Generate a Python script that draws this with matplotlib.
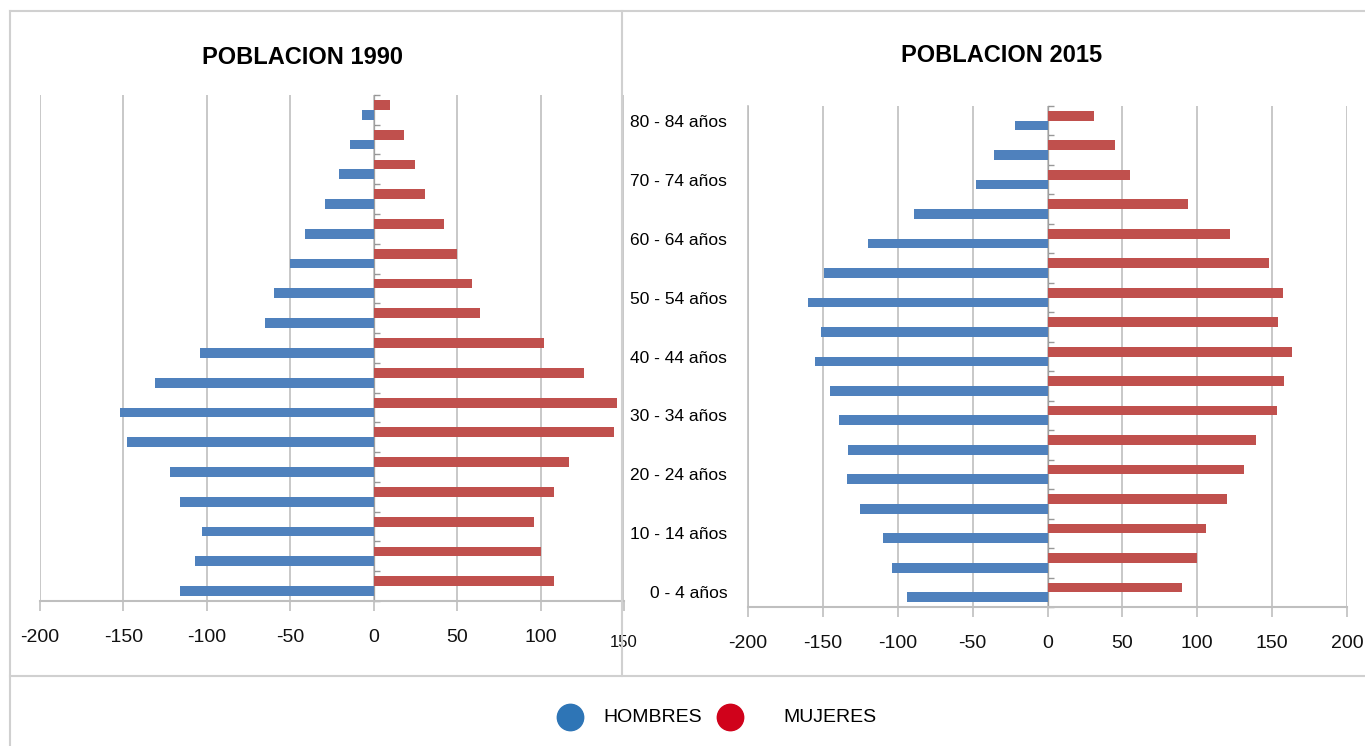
import numpy as np
import matplotlib.pyplot as plt
from matplotlib.lines import Line2D

plt.rcParams['font.family'] = ['Liberation Sans', 'DejaVu Sans']
plt.rcParams['axes.unicode_minus'] = False

# grupos de edad, de 0-4 a 80-84
edades = ['0 - 4 años', '5 - 9 años', '10 - 14 años', '15 - 19 años', '20 - 24 años',
          '25 - 29 años', '30 - 34 años', '35 - 39 años', '40 - 44 años', '45 - 49 años',
          '50 - 54 años', '55 - 59 años', '60 - 64 años', '65 - 69 años', '70 - 74 años',
          '75 - 79 años', '80 - 84 años']

hombres_1990 = [-116, -107, -103, -116, -122, -148, -152, -131, -104, -65,
                -60, -50, -41, -29, -21, -14, -7]
mujeres_1990 = [108, 100, 96, 108, 117, 144, 146, 126, 102, 64,
                59, 50, 42, 31, 25, 18, 10]

hombres_2015 = [-94, -104, -110, -125, -134, -133, -139, -145, -155, -151,
                -160, -149, -120, -89, -48, -36, -22]
mujeres_2015 = [90, 100, 106, 120, 131, 139, 153, 158, 163, 154,
                157, 148, 122, 94, 55, 45, 31]

azul = '#4f81bd'
rojo = '#c0504d'
gris = '#bfbfbf'
h = 0.33

fig = plt.figure(figsize=(13.65, 7.46), dpi=100)
y = np.arange(len(edades))


def piramide(ax, hom, muj, xmin, xmax, zero_frac):
    ax.barh(y - h / 2, hom, height=h, color=azul, zorder=3)
    ax.barh(y + h / 2, muj, height=h, color=rojo, zorder=3)
    ax.set_xlim(xmin, xmax)
    ax.set_ylim(-0.5, len(edades) - 0.5)
    ax.set_xticks(np.arange(xmin, xmax + 1, 50))
    ax.grid(axis='x', color=gris, linewidth=1.2, zorder=0)
    for s in ['top', 'right']:
        ax.spines[s].set_visible(False)
    ax.spines['bottom'].set_color(gris)
    ax.spines['bottom'].set_linewidth(1.5)
    ax.spines['left'].set_color(gris)
    ax.spines['left'].set_linewidth(1.2)
    ax.tick_params(axis='x', colors=gris, length=7, width=1.2, labelsize=14,
                   labelcolor='#111111', pad=13)
    # eje central con marcas entre grupos
    sec = ax.secondary_yaxis(zero_frac)
    sec.set_yticks(np.arange(-0.5, len(edades), 1.0))
    sec.set_yticklabels([])
    sec.spines['left'].set_color('#e6e6e6')
    sec.tick_params(axis='y', colors='#999999', length=4, width=1)


# POBLACION 1990
ax1 = fig.add_axes([0.0293, 0.1944, 0.4278, 0.6783])
piramide(ax1, hombres_1990, mujeres_1990, -200, 150, 200 / 350)
ax1.set_yticks([])
ax1.spines['left'].set_visible(False)
labels = [str(v) for v in range(-200, 151, 50)]
labels[-1] = ''
ax1.set_xticklabels(labels)
ax1.text(150, -0.068, '150', transform=ax1.get_xaxis_transform(),
         ha='center', va='top', fontsize=12, color='#111111')
fig.text(302 / 1365, 1 - 57 / 746, 'POBLACION 1990', ha='center', va='center',
         fontsize=17, fontweight='bold')

# POBLACION 2015
ax2 = fig.add_axes([0.548, 0.1863, 0.4388, 0.6716])
piramide(ax2, hombres_2015, mujeres_2015, -200, 200, 0.5)
ax2.set_yticks(y[::2])
ax2.set_yticklabels(edades[::2])
ax2.tick_params(axis='y', length=0, labelsize=12.5, pad=15)
fig.text(1002 / 1365, 1 - 55 / 746, 'POBLACION 2015', ha='center', va='center',
         fontsize=17, fontweight='bold')

# marcos
marco = dict(color='#d0d0d0', linewidth=1.5, transform=fig.transFigure)
fig.add_artist(Line2D([10 / 1365, 1], [1 - 11 / 746] * 2, **marco))
fig.add_artist(Line2D([10 / 1365] * 2, [0, 1 - 11 / 746], **marco))
fig.add_artist(Line2D([622 / 1365] * 2, [1 - 676 / 746, 1 - 11 / 746], **marco))
fig.add_artist(Line2D([10 / 1365, 1], [1 - 676 / 746] * 2, **marco))

# leyenda
ly = 1 - 717 / 746
fig.add_artist(Line2D([570 / 1365], [ly], marker='o', markersize=19, color='#2e75b6',
                      linestyle='none', transform=fig.transFigure))
fig.text(603 / 1365, ly, 'HOMBRES', ha='left', va='center', fontsize=14)
fig.add_artist(Line2D([730 / 1365], [ly], marker='o', markersize=19, color='#d0021b',
                      linestyle='none', transform=fig.transFigure))
fig.text(783 / 1365, ly, 'MUJERES', ha='left', va='center', fontsize=14)

fig.savefig('out.png', dpi=100)
